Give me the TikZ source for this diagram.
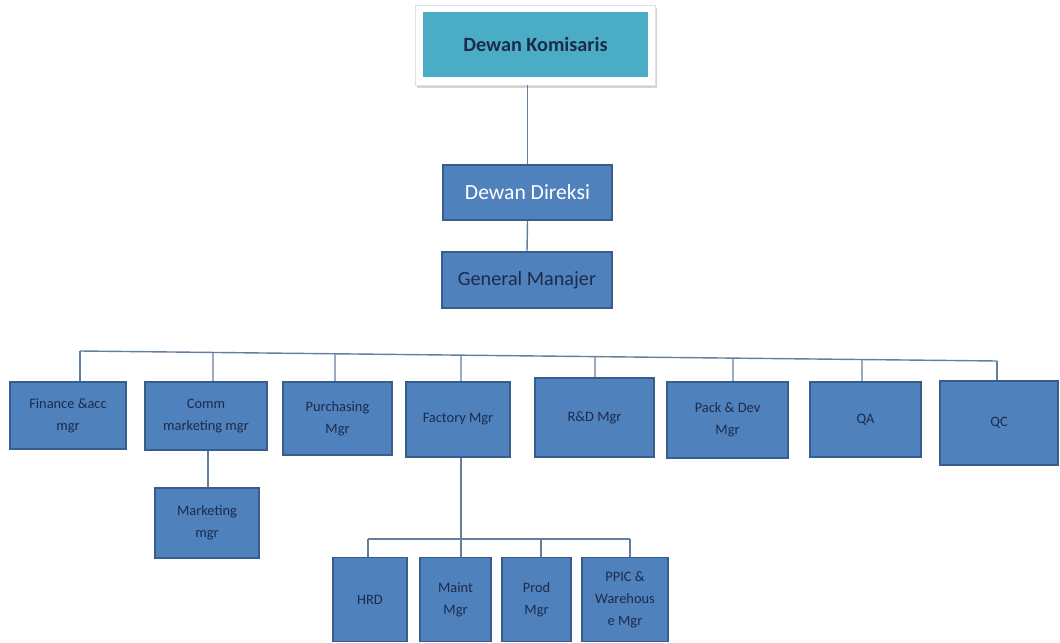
\documentclass[tikz,border=0pt]{standalone}
\usepackage{fontspec}
\setmainfont{Carlito}
\usetikzlibrary{shadows,calc}
\definecolor{unitblue}{HTML}{4F81BD}
\definecolor{unitedge}{HTML}{385D8A}
\definecolor{unitink}{HTML}{1C2B4A}
\definecolor{boardteal}{HTML}{4BACC6}
\definecolor{wireblue}{HTML}{647E9E}
\tikzset{
  unit/.style={draw=unitedge, line width=1.1pt, fill=unitblue, text=unitink,
    align=center, inner sep=1pt, font=\fontsize{8.2}{12.5}\selectfont},
  size/.style 2 args={minimum width=#1*0.02cm, minimum height=#2*0.02cm},
  wire/.style={draw=wireblue, line width=0.8pt}
}
\begin{document}
\begin{tikzpicture}[x=0.02cm, y=-0.02cm]
  \useasboundingbox (0,0) rectangle (1060,642);
  % board
  \node[fill=white, draw=black!12, line width=0.5pt, size={240}{80},
        drop shadow={opacity=0.35, shadow xshift=0.04cm, shadow yshift=-0.07cm}] (frame) at (535,45) {};
  \node[fill=boardteal, text=unitink, size={225}{65},
        font=\fontsize{11.5}{14}\selectfont\bfseries] (kom) at (535.5,44.5) {Dewan Komisaris};
  % directors and general manager
  \node[unit, size={169}{55}, text=white,
        font=\fontsize{12.3}{14}\selectfont] (dir) at (527.5,192.5) {Dewan Direksi};
  \node[unit, size={170}{56},
        font=\fontsize{11.5}{14}\selectfont] (gm) at (527,280) {General Manajer};
  \draw[wire] (frame.south -| dir.north) -- (dir.north);
  \draw[wire] (dir.south) -- (gm.north);
  % managers
  \node[unit, size={116}{67}] (fin) at (68,415.5) {Finance \&acc\\mgr};
  \node[unit, size={122}{68}] (comm) at (206,416) {Comm\\marketing mgr};
  \node[unit, size={109}{73}] (purch) at (337.5,418.5) {Purchasing\\Mgr};
  \node[unit, size={104}{75}] (fact) at (458,419.5) {Factory Mgr};
  \node[unit, size={119}{79}] (rnd) at (594.5,417.5) {R\&D Mgr};
  \node[unit, size={121}{76}] (pack) at (727.5,420) {Pack \& Dev\\Mgr};
  \node[unit, size={111}{75}] (qa) at (865.5,419.5) {QA};
  \node[unit, size={118}{84}] (qc) at (999,423) {QC};
  \node[unit, size={104}{70}] (mkt) at (207,523) {Marketing\\mgr};
  % factory units
  \node[unit, size={74}{84}] (hrd) at (370,599.5) {HRD};
  \node[unit, size={71}{84}] (maint) at (455.5,599.5) {Maint\\Mgr};
  \node[unit, size={69}{84}] (prod) at (536.5,599.5) {Prod\\Mgr};
  \node[unit, size={86}{84}] (ppic) at (625,599.5) {PPIC \&\\Warehous\\e Mgr};
  % main bus
  \coordinate (busL) at (80,351);
  \coordinate (busR) at (997,361);
  \draw[wire] (busL) -- (busR);
  \foreach \x/\n in {80/fin, 213/comm, 335/purch, 461/fact, 595/rnd, 733/pack, 862/qa, 997/qc}
    \draw[wire] ($(busL)!{(\x-80)/917}!(busR)$) -- (\x,0 |- \n.north);
  \draw[wire] (comm.south -| 208,0) -- (mkt.north -| 208,0);
  % factory bus
  \coordinate (subL) at (368,539);
  \coordinate (subR) at (630,539);
  \draw[wire] (subL) -- (subR);
  \draw[wire] (fact.south -| 461,0) -- (maint.north -| 461,0);
  \foreach \x/\n in {368/hrd, 541/prod, 630/ppic}
    \draw[wire] (\x,539) -- (\x,0 |- \n.north);
\end{tikzpicture}
\end{document}
